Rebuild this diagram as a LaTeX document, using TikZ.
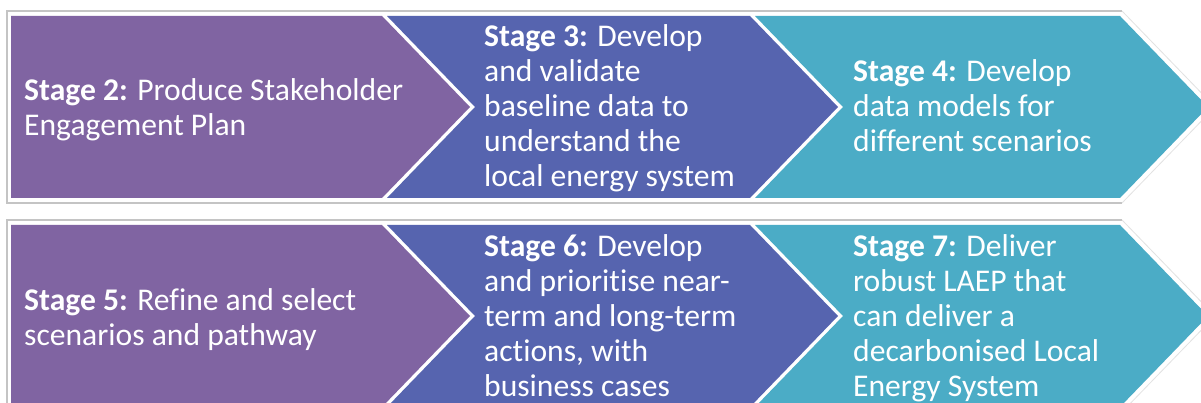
\documentclass[tikz,border=0pt]{standalone}
\usepackage{fontspec}
\setmainfont{Carlito}[Ligatures=NoCommon]
\definecolor{cpurple}{HTML}{8064A2}
\definecolor{cblue}{HTML}{5664AF}
\definecolor{cteal}{HTML}{4BACC6}
\definecolor{cframe}{HTML}{C4C4C4}
\definecolor{cframelight}{HTML}{E2E2E2}
\begin{document}
\begin{tikzpicture}[x=1pt,y=-1pt,
  stagetext/.style={anchor=base west, inner sep=0pt, align=left, text=white,
    font=\fontsize{31.6}{35}\selectfont},
  frameline/.style={draw=cframe, line width=1.2pt},
  framediag/.style={draw=cframelight, line width=0.8pt}]
\useasboundingbox (0,0) rectangle (1201,403);
\clip (0,0) rectangle (1201,403);
\fill[white] (0,0) rectangle (1201,403);
\foreach \oy in {0,209}{
  \begin{scope}[shift={(0,\oy)}]
    \draw[frameline] (1122,11) -- (7,11) -- (7,203) -- (1122,203);
    \draw[framediag] (1122,11) -- (1215,107) -- (1122,203);
    \fill[cpurple] (11,16) -- (382,16) -- (470,107) -- (382,198) -- (11,198) -- cycle;
    \fill[cblue] (387,16) -- (750,16) -- (838,107) -- (750,198) -- (387,198) -- (475,107) -- cycle;
    \fill[cteal] (755,16) -- (1120,16) -- (1208,107) -- (1120,198) -- (755,198) -- (843,107) -- cycle;
  \end{scope}
}
% anchor base = baseline of the last line
\node[stagetext] (s2) at (24,136) {\textbf{Stage 2:} Produce Stakeholder\\Engagement Plan};
\node[stagetext] (s3) at (484,187) {\textbf{Stage 3:} Develop\\and validate\\baseline data to\\understand the\\local energy system};
\node[stagetext] (s4) at (853,152) {\textbf{Stage 4:} Develop\\data models for\\different scenarios};
\node[stagetext] (s5) at (24,345) {\textbf{Stage 5:} Refine and select\\scenarios and pathway};
\node[stagetext] (s6) at (484,396) {\textbf{Stage 6:} Develop\\and prioritise near-\\term and long-term\\actions, with\\business cases};
\node[stagetext] (s7) at (853,396) {\textbf{Stage 7:} Deliver\\robust LAEP that\\can deliver a\\decarbonised Local\\Energy System};
\end{tikzpicture}
\end{document}
